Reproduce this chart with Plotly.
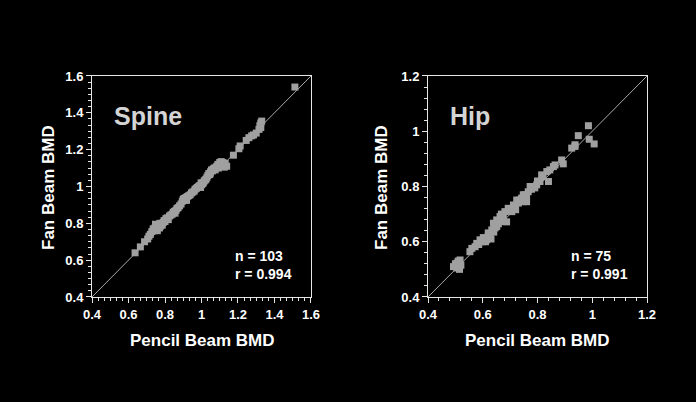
import plotly.graph_objects as go

# ---------------- data ----------------
spine_pencil = [0.636, 0.665, 0.688, 0.705, 0.712, 0.720, 0.728, 0.735, 0.740, 0.745,
                0.748, 0.750, 0.755, 0.758, 0.760, 0.765, 0.770, 0.772, 0.775, 0.780,
                0.785, 0.790, 0.795, 0.800, 0.805, 0.812, 0.818, 0.825, 0.832, 0.840,
                0.845, 0.852, 0.855, 0.860, 0.865, 0.872, 0.880, 0.888, 0.895, 0.900,
                0.905, 0.910, 0.915, 0.918, 0.922, 0.930, 0.938, 0.945, 0.952, 0.960,
                0.965, 0.972, 0.978, 0.985, 0.990, 0.995, 0.998, 1.000, 1.005, 1.010,
                1.015, 1.020, 1.025, 1.030, 1.035, 1.040, 1.045, 1.048, 1.050, 1.055,
                1.060, 1.065, 1.070, 1.075, 1.080, 1.085, 1.090, 1.092, 1.095, 1.100,
                1.105, 1.108, 1.110, 1.115, 1.118, 1.120, 1.125, 1.130, 1.138, 1.175,
                1.205, 1.212, 1.245, 1.260, 1.275, 1.285, 1.300, 1.315, 1.320, 1.325,
                1.330, 1.325, 1.512]
spine_fan = [0.640, 0.672, 0.700, 0.715, 0.730, 0.740, 0.755, 0.770, 0.760, 0.775,
             0.795, 0.785, 0.770, 0.760, 0.780, 0.790, 0.775, 0.800, 0.785, 0.795,
             0.790, 0.805, 0.815, 0.810, 0.825, 0.830, 0.820, 0.840, 0.845, 0.850,
             0.860, 0.865, 0.855, 0.870, 0.880, 0.885, 0.895, 0.905, 0.920, 0.930,
             0.935, 0.925, 0.940, 0.925, 0.945, 0.950, 0.955, 0.965, 0.970, 0.975,
             0.985, 0.990, 0.995, 1.000, 1.005, 0.995, 1.020, 1.010, 1.015, 1.020,
             1.030, 1.035, 1.040, 1.050, 1.060, 1.070, 1.065, 1.072, 1.080, 1.090,
             1.085, 1.095, 1.100, 1.090, 1.105, 1.110, 1.120, 1.100, 1.115, 1.130,
             1.110, 1.135, 1.125, 1.120, 1.130, 1.115, 1.105, 1.125, 1.110, 1.170,
             1.205, 1.220, 1.250, 1.265, 1.275, 1.280, 1.290, 1.310, 1.330, 1.345,
             1.355, 1.320, 1.540]

hip_pencil = [0.493, 0.500, 0.505, 0.505, 0.510, 0.517, 0.520, 0.515, 0.553, 0.560,
              0.572, 0.578, 0.585, 0.590, 0.598, 0.602, 0.608, 0.610, 0.614, 0.620,
              0.620, 0.626, 0.630, 0.633, 0.639, 0.640, 0.645, 0.651, 0.651, 0.657,
              0.663, 0.668, 0.675, 0.675, 0.681, 0.687, 0.693, 0.700, 0.706, 0.712,
              0.718, 0.720, 0.724, 0.730, 0.736, 0.742, 0.748, 0.748, 0.754, 0.760,
              0.760, 0.766, 0.773, 0.778, 0.785, 0.790, 0.797, 0.800, 0.809, 0.815,
              0.820, 0.834, 0.840, 0.845, 0.858, 0.864, 0.888, 0.894, 0.925, 0.937,
              0.937, 0.949, 0.986, 0.989, 1.007]
hip_fan = [0.510, 0.520, 0.505, 0.522, 0.530, 0.534, 0.515, 0.500, 0.564, 0.576,
           0.582, 0.594, 0.590, 0.607, 0.600, 0.615, 0.613, 0.600, 0.607, 0.620,
           0.632, 0.625, 0.610, 0.643, 0.667, 0.635, 0.650, 0.655, 0.679, 0.665,
           0.691, 0.700, 0.673, 0.685, 0.709, 0.672, 0.721, 0.712, 0.709, 0.733,
           0.727, 0.716, 0.751, 0.740, 0.751, 0.758, 0.770, 0.745, 0.770, 0.745,
           0.763, 0.781, 0.800, 0.790, 0.800, 0.795, 0.806, 0.820, 0.818, 0.842,
           0.835, 0.854, 0.818, 0.860, 0.872, 0.878, 0.896, 0.882, 0.939, 0.945,
           0.951, 0.984, 1.020, 0.971, 0.954]

spine_ticks = [0.4, 0.6, 0.8, 1.0, 1.2, 1.4, 1.6]
hip_ticks = [0.4, 0.6, 0.8, 1.0, 1.2]
spine_range = [0.4, 1.6]
hip_range = [0.4, 1.2]

# ---------------- style ----------------
FONT = "Liberation Sans"
POINT = "#a0a0a0"
LINE = "#a8a8a8"
FRAME = "#e6e6e6"

fig = go.Figure()

fig.add_trace(go.Scatter(x=spine_range, y=spine_range, mode="lines",
                         line=dict(color=LINE, width=1), xaxis="x", yaxis="y",
                         hoverinfo="skip"))
fig.add_trace(go.Scatter(x=spine_pencil, y=spine_fan, mode="markers",
                         marker=dict(symbol="square", size=7, color=POINT, line=dict(width=0)),
                         xaxis="x", yaxis="y"))
fig.add_trace(go.Scatter(x=hip_range, y=hip_range, mode="lines",
                         line=dict(color=LINE, width=1), xaxis="x2", yaxis="y2",
                         hoverinfo="skip"))
fig.add_trace(go.Scatter(x=hip_pencil, y=hip_fan, mode="markers",
                         marker=dict(symbol="square", size=7, color=POINT, line=dict(width=0)),
                         xaxis="x2", yaxis="y2"))


def axis(rng, ticks, minor_dt, domain, anchor):
    return dict(
        range=rng, domain=domain, anchor=anchor, automargin=False,
        tickvals=ticks, ticks="outside", ticklen=5, tickwidth=1, tickcolor=FRAME,
        minor=dict(dtick=minor_dt, tick0=rng[0], ticks="outside", ticklen=3,
                   tickwidth=1, tickcolor=FRAME, showgrid=False),
        showline=True, linecolor=FRAME, linewidth=1, mirror=True,
        showgrid=False, zeroline=False,
        tickfont=dict(family=FONT, size=13, color="white", weight="bold"),
        fixedrange=True,
    )


ydom = [0.2612, 0.811]
fig.update_layout(
    width=696, height=402,
    margin=dict(l=0, r=0, t=0, b=0, autoexpand=False),
    paper_bgcolor="black", plot_bgcolor="black",
    showlegend=False,
    xaxis=axis(spine_range, spine_ticks, 0.2 / 6, [0.1322, 0.4468], "y"),
    yaxis=axis(spine_range, spine_ticks, 0.2 / 6, ydom, "x"),
    xaxis2=axis(hip_range, hip_ticks, 0.04, [0.615, 0.9296], "y2"),
    yaxis2=axis(hip_range, hip_ticks, 0.04, ydom, "x2"),
)

ann = []
def txt(x, y, text, size, color="white", xanchor="left", yanchor="middle", angle=0):
    ann.append(dict(x=x / 696, y=1 - y / 402, xref="paper", yref="paper",
                    text=text, showarrow=False, xanchor=xanchor, yanchor=yanchor,
                    textangle=angle,
                    font=dict(family=FONT, size=size, color=color, weight="bold")))

# axis titles
txt(202, 340, "Pencil Beam BMD", 17, xanchor="center")
txt(537, 340, "Pencil Beam BMD", 17, xanchor="center")
txt(48, 188, "Fan Beam BMD", 17, xanchor="center", angle=-90)
txt(381, 188, "Fan Beam BMD", 17, xanchor="center", angle=-90)
# panel labels
txt(112, 116, "Spine", 25, color="#d4d4d4")
txt(448, 116, "Hip", 25, color="#d4d4d4")
# stats
txt(233, 256, "n = 103", 14)
txt(233, 274, "r = 0.994", 14)
txt(569, 256, "n = 75", 14)
txt(569, 274, "r = 0.991", 14)

fig.update_layout(annotations=ann)

post = """
document.documentElement.style.margin='0';
document.documentElement.style.background='black';
document.body.style.margin='0';
document.body.style.padding='0';
document.body.style.background='black';
document.body.style.overflow='hidden';
var gd = document.getElementById('{plot_id}');
Plotly.relayout(gd, {width: 696, height: 402});
"""
fig.write_html("out.html", post_script=post, config={"displayModeBar": False})
